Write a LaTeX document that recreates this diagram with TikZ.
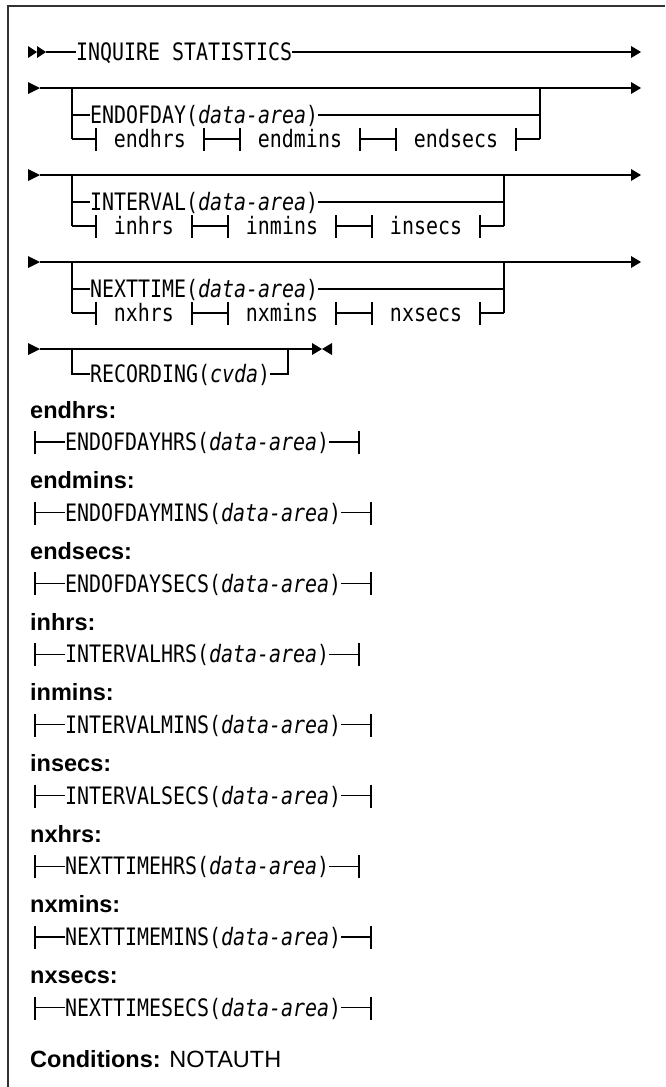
\documentclass[tikz,border=0pt]{standalone}
\usepackage{fontspec}
\newfontfamily\rrfont[FakeStretch=0.8306]{DejaVu Sans Mono}
\newfontfamily\lblfont{Liberation Sans}
\tikzset{
  rail/.style={line width=1.2pt, black},
  rr/.style={font={\fontsize{24}{28}\selectfont\rrfont}, inner sep=0pt, outer sep=0pt, text height=17.5pt, text depth=0pt, anchor=west},
  rrc/.style={rr, anchor=center},
  lbl/.style={font={\fontsize{23.5}{28}\selectfont\lblfont\bfseries}, inner sep=0pt, anchor=base west},
  frame/.style={line width=1.6pt, black!80},
}
\newcommand{\rtri}[2]{\fill (#1,#2-6) -- (#1+10,#2) -- (#1,#2+6) -- cycle;}
\newcommand{\ltri}[2]{\fill (#1,#2-6) -- (#1-10,#2) -- (#1,#2+6) -- cycle;}
\newcommand{\tickat}[1]{\draw[rail] ([yshift=11pt]#1) -- ([yshift=-12pt]#1);}
\begin{document}
\begin{tikzpicture}[x=1pt, y=-1pt]
\useasboundingbox (0,0) rectangle (665,1087);
\draw[frame] (665,6) -- (8,6) -- (8,1087);

% ---------- row 1 ----------
\fill (28,46) -- (37,52) -- (28,58) -- cycle;
\fill (37,46) -- (46,52) -- (37,58) -- cycle;
\coordinate (a1) at (46,52);
\node[rr] (t1) at (76,52) {INQUIRE STATISTICS};
\coordinate (e1) at (631,52);
\draw[rail] (a1) -- (t1.west);
\draw[rail] (t1.east) -- (e1);
\rtri{631}{52}

% ---------- generic main rows ----------
\foreach \Y/\n in {88/2,175/3,262/4}{
  \fill (28,\Y-6) -- (40,\Y) -- (28,\Y+6) -- cycle;
  \coordinate (s\n) at (40,\Y);
  \coordinate (e\n) at (631,\Y);
  \draw[rail] (s\n) -- (e\n);
  \rtri{631}{\Y}
}

% ---------- group 1: ENDOFDAY ----------
\coordinate (g1tl) at (72,88);
\coordinate (g1m) at (72,115);
\coordinate (g1bl) at (72,139);
\coordinate (g1tr) at (540,88);
\coordinate (g1br) at (540,139);
\node[rr] (g1t) at (90,115) {ENDOFDAY(\textit{data-area})};
\coordinate (g1te) at (540,115);
\draw[rail] (g1tl) -- (g1bl);
\draw[rail] (g1m) -- (g1t.west);
\draw[rail] (g1t.east) -- (g1te);
\draw[rail] (g1tr) -- (g1br);
\coordinate (g1k1) at (96,139);
\coordinate (g1k2) at (204,139);
\coordinate (g1k3) at (240,139);
\coordinate (g1k4) at (360,139);
\coordinate (g1k5) at (396,139);
\coordinate (g1k6) at (516,139);
\node[rrc] (g1a) at (150,139) {endhrs};
\node[rrc] (g1b) at (300,139) {endmins};
\node[rrc] (g1c) at (456,139) {endsecs};
\draw[rail] (g1bl) -- (g1k1);
\draw[rail] (g1k2) -- (g1k3);
\draw[rail] (g1k4) -- (g1k5);
\draw[rail] (g1k6) -- (g1br);
\foreach \k in {1,...,6}{\tickat{g1k\k}}

% ---------- groups 2 and 3 ----------
\foreach \g/\Y/\W/\A/\B/\C in {2/175/INTERVAL/inhrs/inmins/insecs, 3/262/NEXTTIME/nxhrs/nxmins/nxsecs}{
  \coordinate (g\g tl) at (72,\Y);
  \coordinate (g\g m) at (72,\Y+27);
  \coordinate (g\g bl) at (72,\Y+51);
  \coordinate (g\g tr) at (504,\Y);
  \coordinate (g\g br) at (504,\Y+51);
  \coordinate (g\g te) at (504,\Y+27);
  \node[rr] (g\g t) at (90,\Y+27) {\W(\textit{data-area})};
  \draw[rail] (g\g tl) -- (g\g bl);
  \draw[rail] (g\g m) -- (g\g t.west);
  \draw[rail] (g\g t.east) -- (g\g te);
  \draw[rail] (g\g tr) -- (g\g br);
  \coordinate (g\g k1) at (96,\Y+51);
  \coordinate (g\g k2) at (192,\Y+51);
  \coordinate (g\g k3) at (228,\Y+51);
  \coordinate (g\g k4) at (336,\Y+51);
  \coordinate (g\g k5) at (372,\Y+51);
  \coordinate (g\g k6) at (480,\Y+51);
  \node[rrc] (g\g a) at (144,\Y+51) {\A};
  \node[rrc] (g\g b) at (282,\Y+51) {\B};
  \node[rrc] (g\g c) at (426,\Y+51) {\C};
  \draw[rail] (g\g bl) -- (g\g k1);
  \draw[rail] (g\g k2) -- (g\g k3);
  \draw[rail] (g\g k4) -- (g\g k5);
  \draw[rail] (g\g k6) -- (g\g br);
  \foreach \k in {1,...,6}{\tickat{g\g k\k}}
}

% ---------- row 5: RECORDING ----------
\fill (28,343) -- (40,349) -- (28,355) -- cycle;
\coordinate (s5) at (40,349);
\coordinate (e5) at (312,349);
\draw[rail] (s5) -- (e5);
\rtri{312}{349}
\ltri{332}{349}
\coordinate (g4tl) at (72,349);
\coordinate (g4bl) at (72,374);
\coordinate (g4tr) at (288,349);
\coordinate (g4br) at (288,374);
\node[rr] (rec) at (90,374) {RECORDING(\textit{cvda})};
\draw[rail] (g4tl) -- (g4bl) -- (rec.west);
\draw[rail] (rec.east) -- (g4br) -- (g4tr);

% ---------- definitions ----------
\foreach \k/\lab/\txt in {0/endhrs/ENDOFDAYHRS, 1/endmins/ENDOFDAYMINS, 2/endsecs/ENDOFDAYSECS,
  3/inhrs/INTERVALHRS, 4/inmins/INTERVALMINS, 5/insecs/INTERVALSECS,
  6/nxhrs/NEXTTIMEHRS, 7/nxmins/NEXTTIMEMINS, 8/nxsecs/NEXTTIMESECS}{
  \pgfmathsetmacro\yy{442+70.7*\k}
  \node[lbl] (lab\k) at (30,\yy-24) {\lab:};
  \coordinate (dl\k) at (35,\yy);
  \node[rr] (dt\k) at (65,\yy) {\txt(\textit{data-area})};
  \coordinate (dr\k) at ([xshift=30pt]dt\k.east);
  \draw[rail] (dl\k) -- (dt\k.west);
  \draw[rail] (dt\k.east) -- (dr\k);
  \tickat{dl\k}
  \tickat{dr\k}
}

\node[font={\fontsize{23.5}{28}\selectfont\lblfont}, inner sep=0pt, anchor=base west] (cond) at (30,1067) {\textbf{Conditions:} NOTAUTH};
\end{tikzpicture}
\end{document}
